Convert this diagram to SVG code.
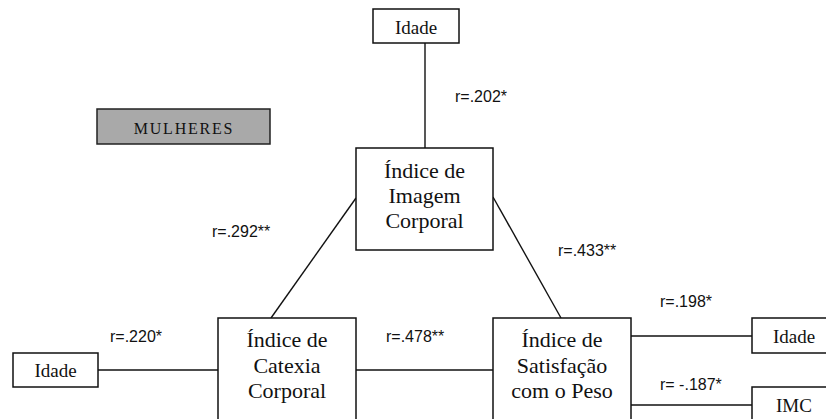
<svg xmlns="http://www.w3.org/2000/svg" width="826" height="419" viewBox="0 0 826 419">
<style>
.box{fill:#fff;stroke:#111;stroke-width:1.5}
.hdr{fill:#a9a9a9;stroke:#222;stroke-width:1.5}
.t{font-family:"Liberation Serif","Times New Roman",serif;fill:#111;text-anchor:middle}
.big{font-size:22px}
.sm{font-size:19px}
.lab{font-family:"Liberation Sans",Arial,sans-serif;font-size:16px;fill:#111}
.ln{stroke:#111;stroke-width:1.4;fill:none}
</style>
<rect width="826" height="419" fill="#fff"/>
<g id="connectors">
<line class="ln" x1="425" y1="43" x2="425" y2="148"/>
<line class="ln" x1="356" y1="198" x2="271" y2="318"/>
<line class="ln" x1="493" y1="197" x2="561" y2="318"/>
<line class="ln" x1="98" y1="370" x2="218" y2="370"/>
<line class="ln" x1="356" y1="370" x2="493" y2="370"/>
<line class="ln" x1="631" y1="336" x2="752" y2="336"/>
<line class="ln" x1="631" y1="405" x2="752" y2="405"/>
</g>
<g id="labels">
<text class="lab" x="455" y="102">r=.202*</text>
<text class="lab" x="212" y="237">r=.292**</text>
<text class="lab" x="558" y="256">r=.433**</text>
<text class="lab" x="110" y="342">r=.220*</text>
<text class="lab" x="386" y="342">r=.478**</text>
<text class="lab" x="660" y="307">r=.198*</text>
<text class="lab" x="660" y="390">r= -.187*</text>
</g>
<g id="mulheres">
<rect class="hdr" x="97" y="109" width="173" height="35"/>
<text class="t" x="184" y="134" style="font-size:16px;letter-spacing:1.8px">MULHERES</text>
</g>
<g id="idade-top">
<rect class="box" x="373" y="9" width="86" height="34"/>
<text class="t sm" x="416" y="34">Idade</text>
</g>
<g id="imagem">
<rect class="box" x="356" y="148" width="137" height="102"/>
<text class="t big" x="424.5" y="178">Índice de</text>
<text class="t big" x="424.5" y="203">Imagem</text>
<text class="t big" x="424.5" y="228">Corporal</text>
</g>
<g id="idade-left">
<rect class="box" x="13" y="353" width="85" height="34"/>
<text class="t sm" x="55.5" y="377">Idade</text>
</g>
<g id="catexia">
<rect class="box" x="218" y="318" width="138" height="110"/>
<text class="t big" x="287" y="347">Índice de</text>
<text class="t big" x="287" y="373">Catexia</text>
<text class="t big" x="287" y="398">Corporal</text>
</g>
<g id="satisfacao">
<rect class="box" x="493" y="318" width="138" height="110"/>
<text class="t big" x="562" y="347">Índice de</text>
<text class="t big" x="562" y="373">Satisfação</text>
<text class="t big" x="562" y="398">com o Peso</text>
</g>
<g id="idade-right">
<rect class="box" x="752" y="318" width="86" height="35"/>
<text class="t sm" x="794" y="343">Idade</text>
</g>
<g id="imc">
<rect class="box" x="752" y="387" width="86" height="40"/>
<text class="t sm" x="794" y="412">IMC</text>
</g>
</svg>
